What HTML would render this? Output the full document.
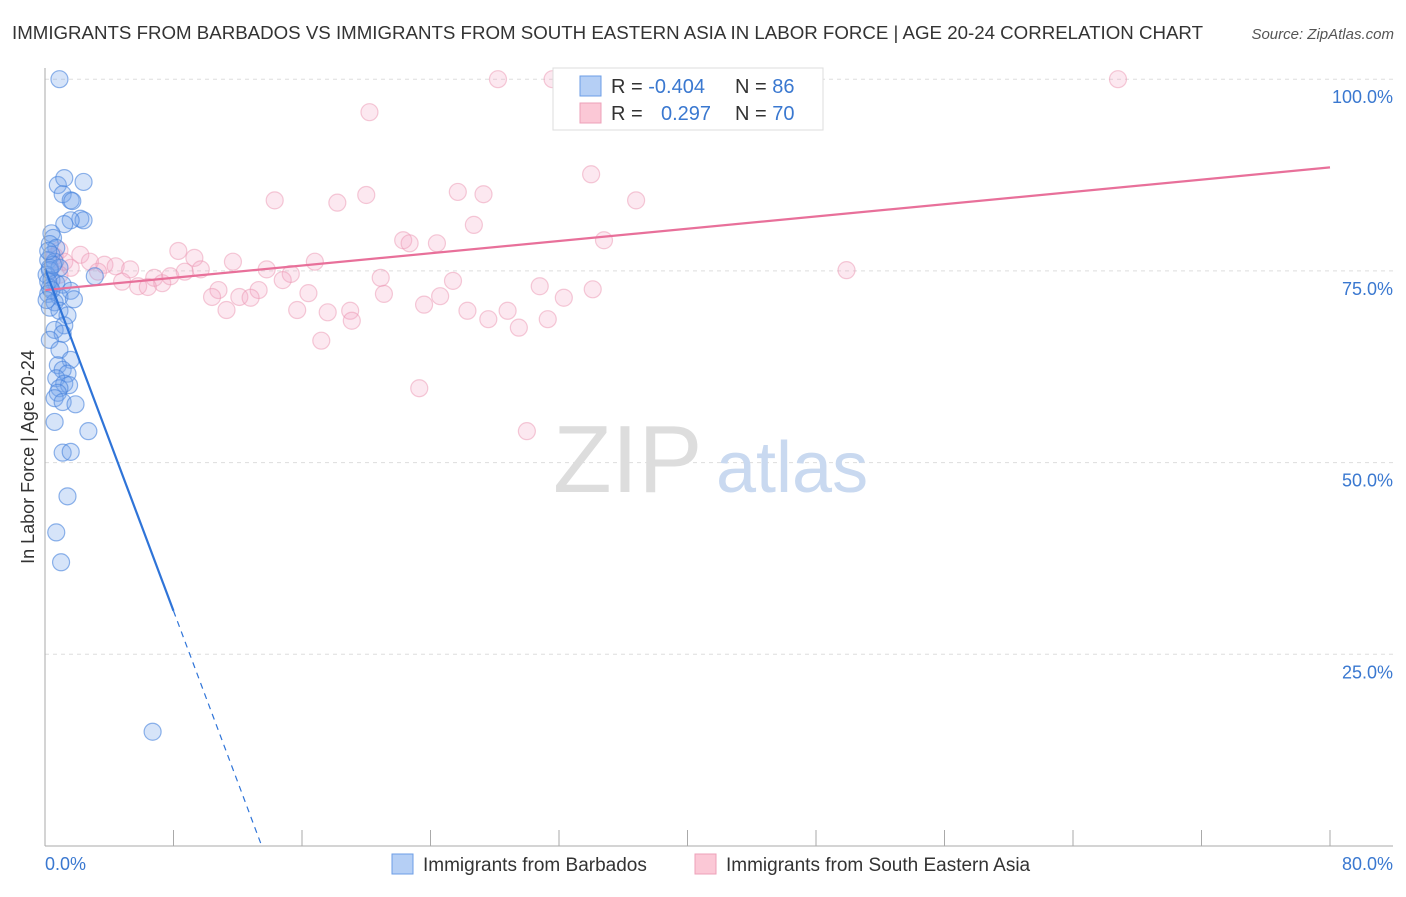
<!DOCTYPE html>
<html><head><meta charset="utf-8"><style>
body{margin:0;background:#fff;font-family:"Liberation Sans",sans-serif}
svg text{font-family:"Liberation Sans",sans-serif}
</style></head><body>
<svg id="chart" width="1406" height="892" xmlns="http://www.w3.org/2000/svg">
<text x="12" y="39" font-size="18.7" fill="#333">IMMIGRANTS FROM BARBADOS VS IMMIGRANTS FROM SOUTH EASTERN ASIA IN LABOR FORCE | AGE 20-24 CORRELATION CHART</text>
<text x="1394" y="39" font-size="15" fill="#555" font-style="italic" text-anchor="end">Source: ZipAtlas.com</text>
<g id="grid"></g>
<text x="553" y="492" font-size="96" fill="#ddd" font-family="Liberation Serif">ZIP</text>
<text x="716" y="492" font-size="72" fill="#c9d9f0">atlas</text>
<g id="pts"></g>
<g id="lines"></g>
<g id="axes"></g>
<text transform="translate(34,457) rotate(-90)" font-size="18" fill="#333" text-anchor="middle">In Labor Force | Age 20-24</text>
<text x="45" y="870" font-size="18" fill="#3a78d0">0.0%</text>
<text x="1393" y="870" font-size="18" fill="#3a78d0" text-anchor="end">80.0%</text>
<g>
<rect x="553" y="68" width="270" height="62" fill="#fff" stroke="#ddd"/>
<rect x="580" y="76" width="21" height="20" fill="#b5cff5" stroke="#6c9ee6"/>
<rect x="580" y="103" width="21" height="20" fill="#fbc8d6" stroke="#eea0b8"/>
<text x="611" y="93" font-size="20" fill="#333">R = <tspan fill="#3a78d0">-0.404</tspan></text>
<text x="735" y="93" font-size="20" fill="#333">N = <tspan fill="#3a78d0">86</tspan></text>
<text x="611" y="120" font-size="20" fill="#333">R = <tspan fill="#3a78d0" x="661">0.297</tspan></text>
<text x="735" y="120" font-size="20" fill="#333">N = <tspan fill="#3a78d0">70</tspan></text>
</g>
<g>
<rect x="392" y="854" width="21" height="20" fill="#b5cff5" stroke="#6c9ee6"/>
<text x="423" y="871" font-size="19" fill="#333">Immigrants from Barbados</text>
<rect x="695" y="854" width="21" height="20" fill="#fbc8d6" stroke="#eea0b8"/>
<text x="726" y="871" font-size="19" fill="#333">Immigrants from South Eastern Asia</text>
</g>
</svg>
<script>
const yTicks=[25,50,75,100];
const yTickLabels=["25.0%","50.0%","75.0%","100.0%"];
const blueX=[0.9,0.8,1.2,2.4,1.1,1.6,1.7,2.2,2.4,1.6,1.2,0.4,0.5,0.3,0.7,0.4,0.2,0.6,0.3,0.9,0.1,3.1,0.4,0.7,1.1,0.3,1.6,0.2,0.9,1.8,0.6,0.3,0.9,1.4,1.2,0.6,1.1,0.3,0.9,1.6,0.8,1.1,1.4,0.7,1.2,1.5,0.9,0.8,0.6,1.1,1.9,0.6,2.7,1.1,1.6,1.4,0.7,1.0,6.7,0.3,0.2,0.4,0.1,0.5,0.2];
const blueY=[100,86.2,87.1,86.6,85.0,84.2,84.1,81.8,81.6,81.6,81.1,79.9,79.3,78.5,78.0,77.1,76.4,76.2,75.4,75.4,74.5,74.3,73.8,73.4,73.2,72.8,72.4,72.0,71.6,71.3,70.9,70.2,69.8,69.2,67.9,67.3,66.8,66.0,64.7,63.4,62.7,62.1,61.6,61.0,60.3,60.1,59.7,59.1,58.4,57.9,57.6,55.3,54.1,51.3,51.4,45.6,40.9,37.0,14.9,75.1,73.6,72.5,71.2,75.8,77.6];
const pinkX=[28.2,31.6,32.9,66.8,20.2,34.0,25.7,27.3,20.0,14.3,36.8,18.2,26.7,22.3,22.7,24.4,34.8,8.3,9.3,11.7,16.8,2.2,2.8,3.7,4.4,5.3,8.7,9.7,13.8,15.3,49.9,3.3,4.8,5.8,6.8,7.3,7.8,6.4,10.8,14.8,20.9,25.4,30.8,13.3,10.4,12.1,12.8,16.4,21.1,24.6,32.3,34.1,11.3,15.7,17.6,19.0,23.6,26.3,28.8,19.1,27.6,29.5,31.3,17.2,23.3,30.0,0.9,1.2,1.6,0.6,0.9];
const pinkY=[100,100,100,100,95.7,87.6,85.3,85.0,84.9,84.2,84.2,83.9,81.0,79.0,78.6,78.6,79.0,77.6,76.7,76.2,76.2,77.1,76.2,75.8,75.6,75.2,74.9,75.2,75.2,74.6,75.1,74.9,73.6,73.0,74.1,73.4,74.3,72.9,72.5,73.8,74.1,73.7,73.0,72.5,71.6,71.6,71.5,72.1,72.0,71.7,71.5,72.6,69.9,69.9,69.6,69.8,70.6,69.8,69.8,68.5,68.7,67.6,68.7,65.9,59.7,54.1,77.7,76.2,75.4,76.9,74.5];
const blueTrend=[75.3,-5.58]; // intercept, slope
const pinkTrend=[72.5,0.2];
const X=v=>45+v/80*1285, Y=v=>846-v*7.668;
const NS="http://www.w3.org/2000/svg";
function mk(t,a,p){const e=document.createElementNS(NS,t);for(const k in a)e.setAttribute(k,a[k]);p.appendChild(e);return e;}
const grid=document.getElementById('grid');
yTicks.forEach((t,i)=>{
 const l=mk('line',{x1:45,x2:1393,y1:Y(t),y2:Y(t),stroke:'#ddd','stroke-dasharray':'4,4'},grid);
 
 
 const tx=mk('text',{x:1393,y:Y(t)+24,'font-size':18,fill:'#3a78d0','text-anchor':'end'},grid);
 tx.textContent=yTickLabels[i];
 
 
});
const axes=document.getElementById('axes');
mk('line',{x1:45,x2:45,y1:68,y2:846,stroke:'#aaa'},axes);
mk('line',{x1:45,x2:1393,y1:846,y2:846,stroke:'#aaa'},axes);
for(let v=0;v<=80;v+=8){const t=mk('line',{x1:X(v),x2:X(v),y1:830,y2:846,stroke:'#aaa'},axes);
 
 }
const pts=document.getElementById('pts');
pinkX.forEach((x,i)=>{const c=mk('circle',{cx:X(x),cy:Y(pinkY[i]),r:8.5,fill:'rgba(245,165,195,0.25)',stroke:'rgba(235,150,178,0.5)','stroke-width':1.2},pts);
 
 });
blueX.forEach((x,i)=>{const c=mk('circle',{cx:X(x),cy:Y(blueY[i]),r:8.5,fill:'rgba(120,165,235,0.3)',stroke:'rgba(70,130,220,0.6)','stroke-width':1.2},pts);
 
 });
const lines=document.getElementById('lines');
const pl=mk('line',{x1:X(0),y1:Y(pinkTrend[0]),x2:X(80),y2:Y(pinkTrend[0]+80*pinkTrend[1]),stroke:'#e8709a','stroke-width':2.2},lines);


const xEnd=-blueTrend[0]/blueTrend[1];
const bl=mk('line',{x1:X(0),y1:Y(blueTrend[0]),x2:X(8),y2:Y(blueTrend[0]+8*blueTrend[1]),stroke:'#2f74d8','stroke-width':2.2},lines);


const bd=mk('line',{x1:X(8),y1:Y(blueTrend[0]+8*blueTrend[1]),x2:X(xEnd),y2:Y(0),stroke:'#2f74d8','stroke-width':1.2,'stroke-dasharray':'6,5'},lines);


</script>
</body></html>
